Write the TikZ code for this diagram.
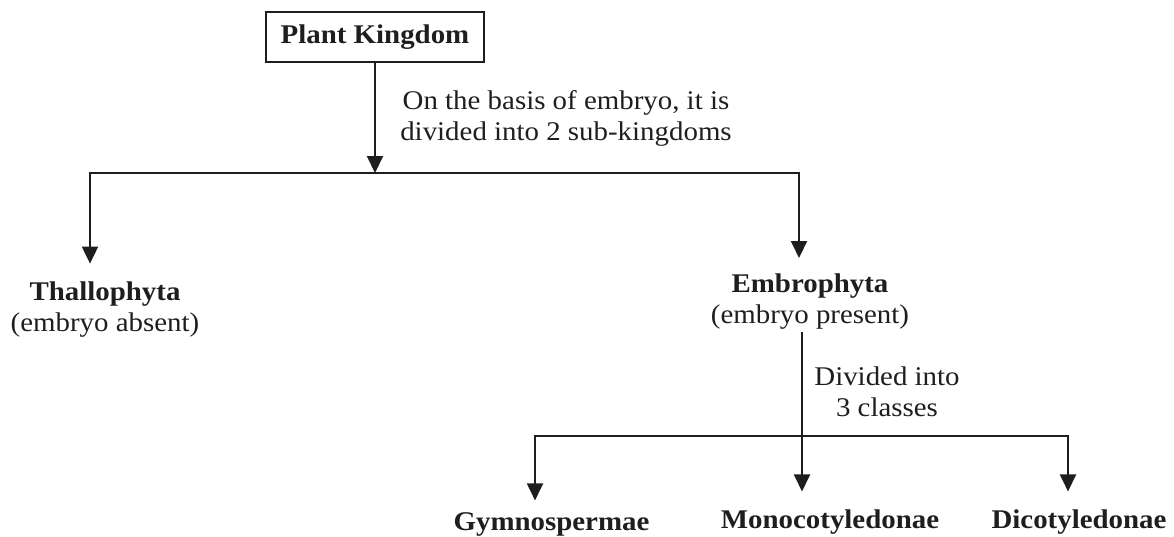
\documentclass[tikz,border=0pt]{standalone}
\usepackage{fontspec}
\setmainfont{Liberation Serif}[FakeStretch=1.07]
\usetikzlibrary{arrows.meta}
\definecolor{ink}{HTML}{1E1E1E}
\begin{document}
\begin{tikzpicture}[x=1pt,y=-1pt,
  txt/.style={font=\fontsize{27}{31}\selectfont, text=ink, inner sep=0pt, align=center},
  head/.style={txt, font=\fontsize{27}{31}\selectfont\bfseries},
  link/.style={draw=ink, line width=2pt},
  arr/.style={link, -{Triangle[length=17pt,width=16pt]}}]
\useasboundingbox (0,0) rectangle (1174,536);

% root box and its split
\node[head, draw=ink, line width=2pt, minimum width=218pt, minimum height=50pt] (pk) at (375,37) {Plant Kingdom};
\node[txt, anchor=north] (basis) at (566,90.6) {On the basis of embryo, it is\\divided into 2 sub-kingdoms};
\coordinate (tm) at (375,173);
\coordinate (tl) at (90,173);
\coordinate (tr) at (799,173);

% sub-kingdoms
\node[txt, anchor=north] (th) at (105,281.6) {\textbf{Thallophyta}\\(embryo absent)};
\node[txt, anchor=north] (em) at (810,273.6) {\textbf{Embrophyta}\\(embryo present)};

% classes
\node[txt, anchor=north] (div) at (887,366.6) {Divided into\\3 classes};
\coordinate (bm) at (802,436);
\coordinate (bl) at (535,436);
\coordinate (br) at (1068,436);
\node[head, anchor=base] (gy) at (551.5,530) {Gymnospermae};
\node[head, anchor=base] (mo) at (830,528) {Monocotyledonae};
\node[head, anchor=base] (di) at (1079,528) {Dicotyledonae};

% connectors
\draw[arr] (pk) -- (tm);
\draw[arr, shorten >=18pt] (tr) -- (tl) -- (tl |- th.north);
\draw[arr, shorten >=15.6pt] (tl) -- (tr) -- (tr |- em.north);
\draw[arr, shorten <=2pt, shorten >=17.6pt] (bm |- em.south) -- (bm |- mo.north);
\draw[arr, shorten >=11.5pt] (br) -- (bl) -- (bl |- gy.north);
\draw[arr, shorten >=17.6pt] (bl) -- (br) -- (br |- di.north);
\end{tikzpicture}
\end{document}
